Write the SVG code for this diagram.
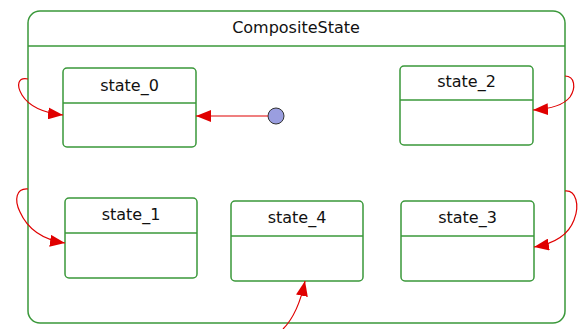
<svg xmlns="http://www.w3.org/2000/svg" width="586" height="329" viewBox="0 0 586 329">
<defs>
<marker id="ah" markerWidth="15" markerHeight="12" refX="15" refY="6" orient="auto" markerUnits="userSpaceOnUse">
<path d="M0,0 L15,6 L0,12 Z" fill="#e00000"/>
</marker>
<style>
.box{fill:#fff;stroke:#3a983a;stroke-width:1.5}
.div{stroke:#3a983a;stroke-width:1.5}
.lbl{font-family:"DejaVu Sans","Liberation Sans",sans-serif;font-size:16px;fill:#111;text-anchor:middle}
.edge{fill:none;stroke:#e00000;stroke-width:1.2;marker-end:url(#ah)}
</style>
</defs>
<rect width="586" height="329" fill="#fff"/>
<g id="CompositeState">
<rect class="box" x="28" y="11" width="537" height="312" rx="12"/>
<line class="div" x1="28" y1="46" x2="565" y2="46"/>
<text class="lbl" x="296" y="33">CompositeState</text>
</g>
<g id="state_0">
<rect class="box" x="63" y="68" width="133" height="79" rx="4"/>
<line class="div" x1="63" y1="103" x2="196" y2="103"/>
<text class="lbl" x="129.5" y="91">state_0</text>
</g>
<g id="state_2">
<rect class="box" x="400" y="66" width="133" height="79" rx="4"/>
<line class="div" x1="400" y1="100" x2="533" y2="100"/>
<text class="lbl" x="466.5" y="87">state_2</text>
</g>
<g id="state_1">
<rect class="box" x="65" y="198" width="132" height="80" rx="4"/>
<line class="div" x1="65" y1="233" x2="197" y2="233"/>
<text class="lbl" x="131" y="220">state_1</text>
</g>
<g id="state_4">
<rect class="box" x="231" y="201" width="132" height="80" rx="4"/>
<line class="div" x1="231" y1="236" x2="363" y2="236"/>
<text class="lbl" x="297" y="223">state_4</text>
</g>
<g id="state_3">
<rect class="box" x="401" y="201" width="133" height="80" rx="4"/>
<line class="div" x1="401" y1="236" x2="534" y2="236"/>
<text class="lbl" x="467.5" y="223">state_3</text>
</g>
<g id="initial">
<circle cx="276" cy="116" r="8" fill="#9a9ee0" stroke="#333" stroke-width="1"/>
</g>
<g id="connectors">
<path class="edge" d="M268,116 L196,116"/>
<path class="edge" d="M28,79 C18,77 16,85 22,95 C30,108 45,113 63,115"/>
<path class="edge" d="M28,189 C16,188 14,200 20,212 C28,230 45,240 65,243"/>
<path class="edge" d="M565,76 C575,76 576,88 570,97 C563,106 550,109 533,110"/>
<path class="edge" d="M565,191 C576,190 580,205 574,220 C568,236 552,244 534,247"/>
<path class="edge" d="M283,329 C292,320 300,305 305,281"/>
</g>
</svg>
